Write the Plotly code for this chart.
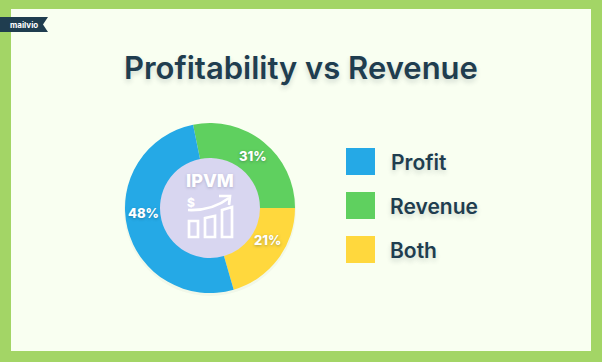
import plotly.graph_objects as go

W, H = 602, 362

# Data
title_text = "Profitability vs Revenue"
categories = ["Revenue", "Both", "Profit"]
printed_labels = ["31%", "21%", "48%"]
# slice sizes as drawn in the picture (they differ a little from the printed labels)
drawn_shares = [28.2, 20.5, 51.3]
slice_colors = ["#5FD05F", "#FFD83D", "#25A9E6"]
legend_order = ["Profit", "Revenue", "Both"]
legend_colors = ["#25A9E6", "#5FD05F", "#FFD83D"]

INK = "#1F3D4F"
FONT = "Inter"
CX, CY, R, R_IN = 210, 208, 85, 50
rotation = -11.5


def px(x):
    return x / W


def py(y):
    return 1 - y / H


def rect(x0, y0, x1, y1, **kw):
    return dict(type="rect", xref="paper", yref="paper", x0=px(x0), x1=px(x1),
                y0=py(y0), y1=py(y1), **kw)


def circle(cx, cy, r, **kw):
    return dict(type="circle", xref="paper", yref="paper", x0=px(cx - r), x1=px(cx + r),
                y0=py(cy + r), y1=py(cy - r), line=dict(width=0), **kw)


def path(points, closed=False, **kw):
    s = ""
    for i, p in enumerate(points):
        if isinstance(p[0], str):
            s += " " + p[0] + " " + " ".join(f"{px(a):.5f},{py(b):.5f}" for a, b in p[1:])
        else:
            s += ("M " if i == 0 else " L ") + f"{px(p[0]):.5f},{py(p[1]):.5f}"
    if closed:
        s += " Z"
    return dict(type="path", xref="paper", yref="paper", path=s, **kw)


fig = go.Figure(go.Pie(
    labels=categories,
    values=drawn_shares,
    sort=False,
    direction="clockwise",
    rotation=rotation,
    hole=R_IN / R,
    marker=dict(colors=slice_colors, line=dict(width=0)),
    textinfo="none",
    showlegend=False,
    domain=dict(x=[px(CX - R), px(CX + R)], y=[py(CY + R), py(CY - R)]),
))

shapes = [
    rect(11, 9, 591, 351, fillcolor="#F9FFF1", line=dict(width=0), layer="below"),
    circle(CX, CY + 2, R + 1, fillcolor="rgba(60,80,60,0.04)", layer="below"),
    circle(CX, CY, R_IN + 0.5, fillcolor="#D8D6F0", layer="below"),
    # mailvio ribbon
    path([(0, 17), (48, 17), (43, 24.5), (48, 32), (0, 32)], closed=True,
         fillcolor="#1F3D4F", line=dict(width=0), layer="above"),
]

# icon in the centre of the ring
white = dict(color="white", width=2.7)
shapes.append(path([(189, 221), (198, 221), (198, 237), (189, 237)], closed=True, line=white, layer="above"))
shapes.append(path([(205, 218), (215, 216), (215, 237), (205, 237)], closed=True, line=white, layer="above"))
shapes.append(path([(222, 210), (232, 207), (232, 237), (222, 237)], closed=True, line=white, layer="above"))
shapes.append(path([(188, 210), ("Q", (212, 211), (229, 198))], line=white, layer="above"))
shapes.append(path([(219, 196), (230, 196), (229, 205)], line=white, layer="above"))

# legend swatches
for color, y0 in zip(legend_colors, [148, 192, 236]):
    shapes.append(rect(346, y0, 375, y0 + 27, fillcolor=color, line=dict(width=0), layer="above"))

shadow = "0px 3px 5px rgba(30,50,60,0.18)"
ann = []


def text(x, y, s, size, color, weight=700, shadow_css="none", anchor="center"):
    ann.append(dict(xref="paper", yref="paper", x=px(x), y=py(y), text=s, showarrow=False,
                    xanchor=anchor, yanchor="middle",
                    font=dict(family=FONT, size=size, color=color, weight=weight, shadow=shadow_css)))


text(301, 68, title_text, 31, INK, 600, shadow)
for s, pos in zip(printed_labels, [(253, 156), (267, 240), (143, 213)]):
    text(pos[0], pos[1], s, 13, "white", 800, "0px 1px 3px rgba(30,50,60,0.35)")
text(210, 180, "IPVM", 18, "white", 800, "0px 1px 3px rgba(60,60,100,0.25)")
text(191, 202, "$", 12, "white", 800)
text(24, 24.5, "mailvio", 8, "white", 700)
for s, x, y in zip(legend_order, [389, 388, 388], [162, 206, 250]):
    text(x, y, s, 21, INK, 600, shadow, anchor="left")

fig.update_layout(
    width=W, height=H,
    margin=dict(l=0, r=0, t=0, b=0),
    paper_bgcolor="#A3D566",
    plot_bgcolor="rgba(0,0,0,0)",
    shapes=shapes,
    annotations=ann,
)
fig.write_html("out.html", config=dict(displayModeBar=False),
               post_script="document.body.style.margin='0';document.body.style.overflow='hidden';")
